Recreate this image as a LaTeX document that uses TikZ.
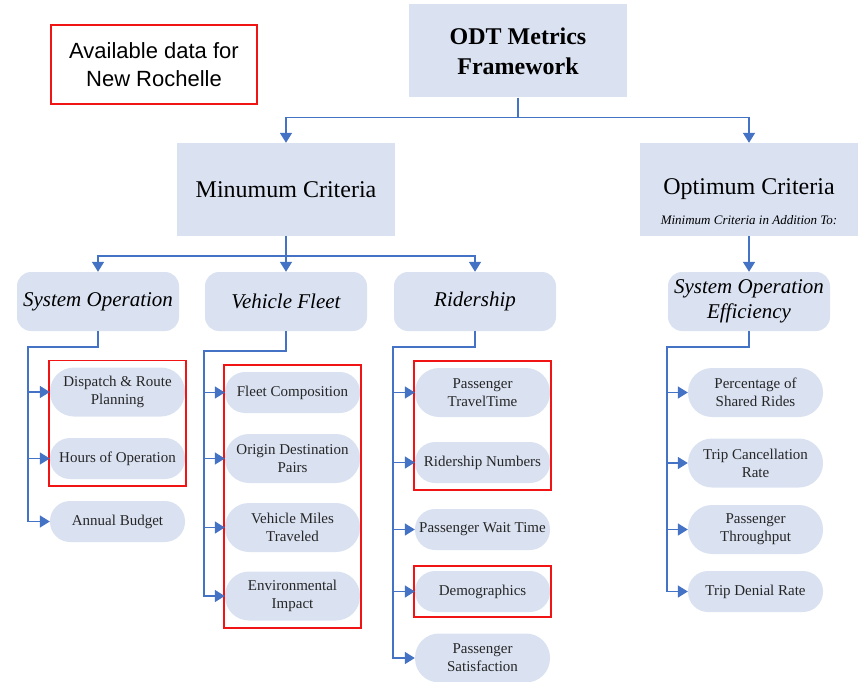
\documentclass[tikz,border=0pt]{standalone}
\usepackage{fontspec}
\setmainfont{Liberation Serif}
\newfontfamily\legendfont{Liberation Sans}
\usetikzlibrary{arrows.meta,fit}
\definecolor{boxfill}{RGB}{218,226,242}
\definecolor{linkblue}{RGB}{68,114,196}
\definecolor{availred}{RGB}{240,20,20}
\tikzset{
  topbox/.style={fill=boxfill, minimum width=218pt, minimum height=93pt, align=center, inner sep=0pt},
  catbox/.style={fill=boxfill, rounded corners=14pt, minimum width=162pt, minimum height=59pt, align=center, inner sep=0pt, font=\fontsize{21}{25}\selectfont\itshape},
  metric/.style={fill=boxfill, rounded corners=20pt, minimum width=135pt, minimum height=41pt, align=center, inner sep=0pt, text=black!85, font=\fontsize{15}{18}\selectfont},
  twoline/.style={minimum height=49pt, rounded corners=24pt},
  link/.style={draw=linkblue, line width=1.6pt, -{Triangle[width=12pt,length=10pt]}},
  avail/.style={draw=availred, line width=1.6pt, inner xsep=1pt, inner ysep=7pt},
}
\begin{document}
\begin{tikzpicture}[x=1pt,y=-1pt]
        \useasboundingbox (0,0) rectangle (860,682);
        \node[draw=availred, line width=1.6pt, minimum width=206pt, minimum height=79pt, align=center, font=\legendfont\fontsize{22}{28}\selectfont] (legend) at (154,64.5) {Available data for\\New Rochelle};
        \node[topbox, font=\fontsize{24}{30}\selectfont\bfseries] (odt) at (518,51) {ODT Metrics\\Framework};
        \node[topbox, font=\fontsize{24}{30}\selectfont] (minc) at (286,189.5) {Minumum Criteria};
        \node[topbox, font=\fontsize{24}{30}\selectfont] (optc) at (749,189.5) {Optimum Criteria};
        \node[font=\fontsize{13}{16}\selectfont\itshape] (optnote) at (749,220) {Minimum Criteria in Addition To:};
        % criteria groups
        \node[catbox] (sysop) at (98,301.5) {System Operation};
        \node[catbox] (fleet) at (286,301.5) {Vehicle Fleet};
        \node[catbox] (rider) at (475,301.5) {Ridership};
        \node[catbox] (effic) at (749,301.5) {System Operation\\Efficiency};
        % metrics
        \node[metric, twoline] (dispatch) at (117.5,392) {Dispatch \& Route\\Planning};
        \node[metric] (hours) at (117.5,458.5) {Hours of Operation};
        \node[metric] (budget) at (117.5,521.5) {Annual Budget};
        \node[metric] (fleetcomp) at (292.5,392.5) {Fleet Composition};
        \node[metric, twoline] (odpairs) at (292.5,458.5) {Origin Destination\\Pairs};
        \node[metric, twoline] (vmt) at (292.5,527.5) {Vehicle Miles\\Traveled};
        \node[metric, twoline] (envimp) at (292.5,596) {Environmental\\Impact};
        \node[metric, twoline] (traveltime) at (482.5,392.5) {Passenger\\TravelTime};
        \node[metric] (ridernum) at (482.5,462.5) {Ridership Numbers};
        \node[metric] (waittime) at (482.5,529.5) {Passenger Wait Time};
        \node[metric] (demog) at (482.5,591.5) {Demographics};
        \node[metric, twoline] (satisf) at (482.5,658) {Passenger\\Satisfaction};
        \node[metric, twoline] (shared) at (755.5,392.5) {Percentage of\\Shared Rides};
        \node[metric, twoline] (cancel) at (755.5,463) {Trip Cancellation\\Rate};
        \node[metric, twoline] (through) at (755.5,529.5) {Passenger\\Throughput};
        \node[metric] (denial) at (755.5,591.5) {Trip Denial Rate};
        % available data
        \node[avail, fit=(dispatch)(hours)] (availsys) {};
        \node[avail, fit=(fleetcomp)(envimp)] (availfleet) {};
        \node[avail, fit=(traveltime)(ridernum)] (availride) {};
        \node[avail, inner ysep=5pt, fit=(demog)] (availdemo) {};
        % links
        \draw[link] (odt.south) -- ++(0,20) -| (minc.north);
        \draw[link] (odt.south) -- ++(0,20) -| (optc.north);
        \draw[link] (minc.south) -- ++(0,20) -| (sysop.north);
        \draw[link] (minc.south) -- (fleet.north);
        \draw[link] (minc.south) -- ++(0,20) -| (rider.north);
        \draw[link] (optc.south) -- (effic.north);
        \draw[link] (sysop.south) -- ++(0,16) -| ([xshift=-22pt]budget.west) -- (budget.west);
        \draw[link] ([xshift=-22pt]dispatch.west) -- (dispatch.west);
        \draw[link] ([xshift=-22pt]hours.west) -- (hours.west);
        \draw[link] (fleet.south) -- ++(0,20) -| ([xshift=-21pt]envimp.west) -- (envimp.west);
        \draw[link] ([xshift=-21pt]fleetcomp.west) -- (fleetcomp.west);
        \draw[link] ([xshift=-21pt]odpairs.west) -- (odpairs.west);
        \draw[link] ([xshift=-21pt]vmt.west) -- (vmt.west);
        \draw[link] (rider.south) -- ++(0,16) -| ([xshift=-22pt]satisf.west) -- (satisf.west);
        \draw[link] ([xshift=-22pt]traveltime.west) -- (traveltime.west);
        \draw[link] ([xshift=-22pt]ridernum.west) -- (ridernum.west);
        \draw[link] ([xshift=-22pt]waittime.west) -- (waittime.west);
        \draw[link] ([xshift=-22pt]demog.west) -- (demog.west);
        \draw[link] (effic.south) -- ++(0,16) -| ([xshift=-21pt]denial.west) -- (denial.west);
        \draw[link] ([xshift=-21pt]shared.west) -- (shared.west);
        \draw[link] ([xshift=-21pt]cancel.west) -- (cancel.west);
        \draw[link] ([xshift=-21pt]through.west) -- (through.west);
\end{tikzpicture}
\end{document}
